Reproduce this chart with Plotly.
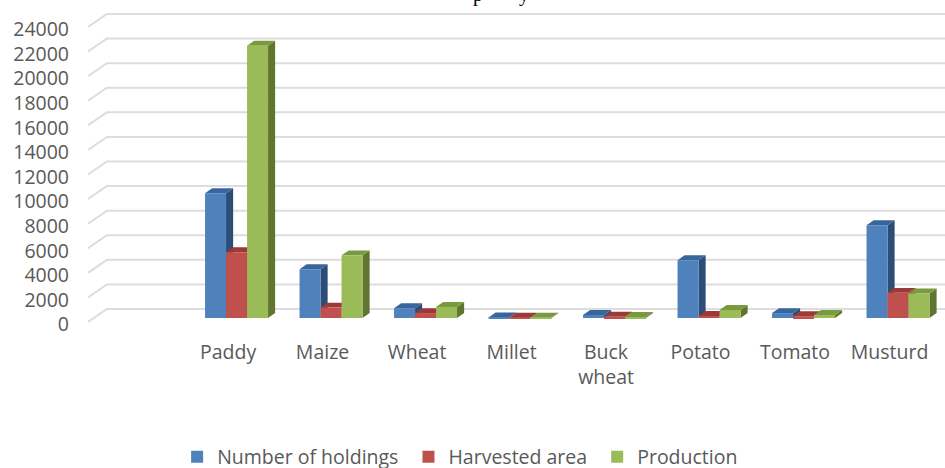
# Grouped bar chart of crops with Excel-style fake 3D depth drawn as shapes

import plotly.graph_objects as go

# First category is empty in the original chart
categories = ["", "Paddy", "Maize", "Wheat", "Millet", "Buck<br>wheat", "Potato", "Tomato", "Musturd"]
holdings = [None, 10150, 3970, 800, 50, 250, 4700, 400, 7550]
harvested = [None, 5350, 850, 400, 30, 100, 170, 150, 2050]
production = [None, 22150, 5100, 900, 30, 80, 650, 250, 2000]
y_ticks = list(range(0, 26000, 2000))

# Trailing no-break space widens the legend spacing a little
series = [
    ("Number of holdings\u00a0", holdings, "#4F81BD", "#2C4D75", "#38659C"),
    ("Harvested area\u00a0", harvested, "#C0504D", "#772C2A", "#9C3A37"),
    ("Production", production, "#9BBB59", "#5F7530", "#7A9A40"),
]

# Depth of the floor and of the bars, in axis units.
# The tick labels sit a little under the lines they name, hence FRONT_DY
FRONT_DY = 203
FLOOR_DX = 0.2
FLOOR_DY = 1054
BAR_DX = 0.075
BAR_DY = 400
BAR_INSET = 527
BAR_SHIFT = 0.09
BAR_W = 0.2222
X_MIN = -0.482
X_MAX = 8.587

fig = go.Figure()
shapes = []


def polygon(points, color):
    path = "M " + " L ".join(f"{x},{y}" for x, y in points) + " Z"
    return dict(type="path", path=path, xref="x", yref="y", layer="below",
                fillcolor=color, line={"width": 0})


# Gridlines: short diagonal along the side wall, then across the back wall
for v in y_ticks:
    y_front = v + FRONT_DY
    path = f"M {X_MIN},{y_front} L {X_MIN + FLOOR_DX},{y_front + FLOOR_DY} L {X_MAX},{y_front + FLOOR_DY}"
    shapes.append(dict(type="path", path=path, xref="x", yref="y", layer="below",
                       line={"color": "#DDDDDD", "width": 2}))

x_pos = [i + BAR_SHIFT for i in range(len(categories))]

for s, (name, values, front, side, top) in enumerate(series):
    fig.add_trace(go.Bar(
        name=name,
        x=x_pos,
        y=values,
        base=BAR_INSET,
        marker={"color": front, "line": {"width": 0}},
        hoverinfo="none",
    ))
    for xc, v in zip(x_pos, values):
        if v is None:
            continue
        left = xc + (s - 1.5) * BAR_W
        right = left + BAR_W
        y0 = BAR_INSET
        y1 = BAR_INSET + v
        # right side face, then the top face
        shapes.append(polygon([(right, y0), (right + BAR_DX, y0 + BAR_DY),
                               (right + BAR_DX, y1 + BAR_DY), (right, y1)], side))
        shapes.append(polygon([(left, y1), (right, y1),
                               (right + BAR_DX, y1 + BAR_DY), (left + BAR_DX, y1 + BAR_DY)], top))

fig.update_layout(
    width=945,
    height=468,
    margin={"l": 88, "r": 0, "t": 0, "b": 138, "autoexpand": False},
    paper_bgcolor="white",
    plot_bgcolor="white",
    barmode="group",
    bargap=1 / 3,
    bargroupgap=0,
    shapes=shapes,
    font={"family": "Open Sans", "size": 19.5, "color": "#595959"},
    legend={
        "orientation": "h",
        "x": 0.104,
        "y": -0.385,
        "xanchor": "left",
        "yanchor": "middle",
        "font": {"size": 19.5, "color": "#595959"},
        "bgcolor": "rgba(0,0,0,0)",
    },
    # Title is cropped in the source, only descenders of two letters show
    annotations=[
        dict(text="p", xref="paper", yref="paper", x=0.455, y=1, yanchor="bottom",
             yshift=-8, showarrow=False, font={"family": "Liberation Serif", "size": 20, "color": "black"}),
        dict(text="y", xref="paper", yref="paper", x=0.509, y=1, yanchor="bottom",
             yshift=-8, showarrow=False, font={"family": "Liberation Serif", "size": 20, "color": "black"}),
    ],
)

fig.update_xaxes(
    range=[X_MIN, X_MAX],
    tickmode="array",
    tickvals=list(range(len(categories))),
    ticktext=categories,
    showgrid=False,
    zeroline=False,
    showline=False,
    ticks="",
    ticklabelstandoff=8,
    automargin=False,
)

fig.update_yaxes(
    range=[-448, 26393],
    tickmode="array",
    tickvals=y_ticks,
    tickformat="d",
    showgrid=False,
    zeroline=False,
    showline=False,
    ticks="",
    ticklabelstandoff=18,
    automargin=False,
)

# Page has a default body margin that would push the figure off the window
fig.write_html("out.html", config={"displayModeBar": False},
               post_script="document.body.style.margin = '0';")
